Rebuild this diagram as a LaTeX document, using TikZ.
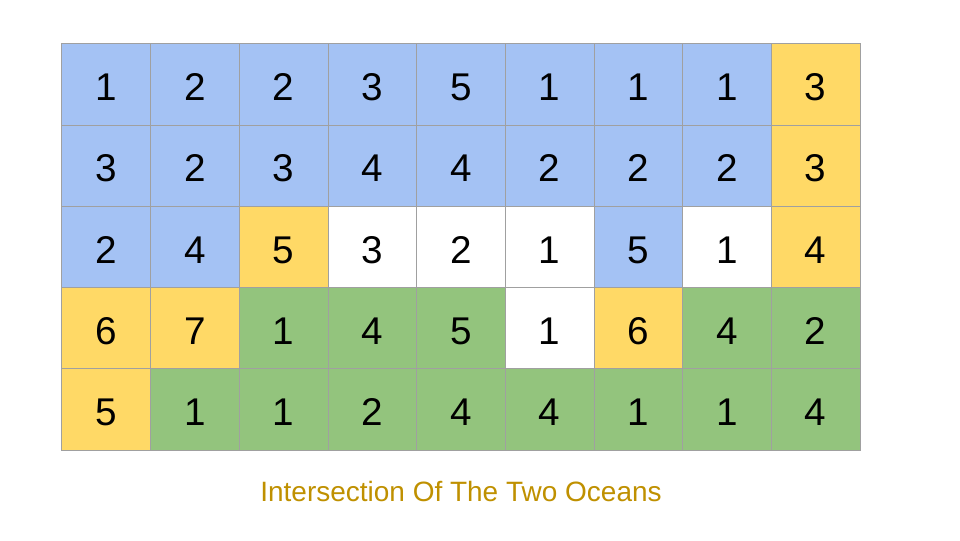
\documentclass[tikz,border=0pt]{standalone}
\usepackage{fontspec}
\setmainfont{Liberation Sans}

\begin{document}
\begin{tikzpicture}[x=0.025cm, y=-0.025cm]
\definecolor{pacblue}{HTML}{A4C2F4}
\definecolor{bothgold}{HTML}{FFD966}
\definecolor{atlgreen}{HTML}{93C47D}
\definecolor{gridgray}{HTML}{A0A0A0}
\definecolor{titlegold}{HTML}{BF9000}
\tikzset{cell/.style={draw=gridgray, line width=0.7pt, inner sep=0pt,
  minimum width=2.2167cm, minimum height=2.03cm,
  text height=22.8pt, text depth=0pt,
  font=\fontsize{27.5}{30}\selectfont}}
	\useasboundingbox (0,0) rectangle (960,540);

	% heights with the ocean each cell drains to
	\foreach \row [count=\r from 0] in {
	  {1/pacblue,2/pacblue,2/pacblue,3/pacblue,5/pacblue,1/pacblue,1/pacblue,1/pacblue,3/bothgold},
	  {3/pacblue,2/pacblue,3/pacblue,4/pacblue,4/pacblue,2/pacblue,2/pacblue,2/pacblue,3/bothgold},
	  {2/pacblue,4/pacblue,5/bothgold,3/white,2/white,1/white,5/pacblue,1/white,4/bothgold},
	  {6/bothgold,7/bothgold,1/atlgreen,4/atlgreen,5/atlgreen,1/white,6/bothgold,4/atlgreen,2/atlgreen},
	  {5/bothgold,1/atlgreen,1/atlgreen,2/atlgreen,4/atlgreen,4/atlgreen,1/atlgreen,1/atlgreen,4/atlgreen}}
	{
	  \foreach \v/\c [count=\k from 0] in \row
	    \node[cell, fill=\c] (c-\r-\k) at ({106.33+88.67*\k},{84.6+81.2*\r}) {\v};
	}

	\node[text=titlegold, font=\fontsize{19.9}{24}\selectfont] (title) at (461,491) {Intersection Of The Two Oceans};
\end{tikzpicture}
\end{document}
